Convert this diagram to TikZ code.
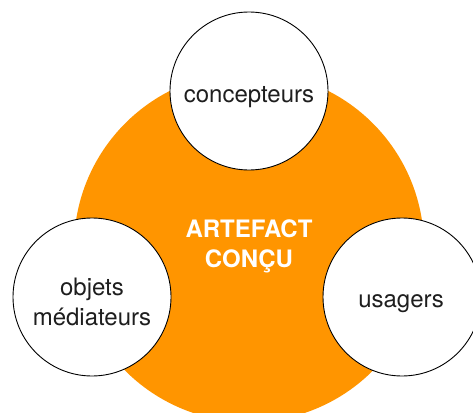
\documentclass[tikz,border=0pt]{standalone}
\usepackage{fontspec}
\setmainfont{TeX Gyre Heros}
\definecolor{artorange}{RGB}{255,149,0}
\definecolor{txtgray}{RGB}{30,30,30}
\begin{document}
\begin{tikzpicture}[x=1pt,y=-1pt,
  agent/.style={circle,draw=black,line width=0.9pt,fill=white,minimum size=158pt,inner sep=0pt},
  lbl/.style={anchor=base,font=\fontsize{24}{30}\selectfont,text=txtgray,inner sep=0pt},
  core/.style={anchor=base,font=\fontsize{24}{30}\selectfont\bfseries,text=white,inner sep=0pt}]
\useasboundingbox (0,0) rectangle (473,412);
\clip (0,0) rectangle (473,412);
\node[circle,fill=artorange,minimum size=350pt,inner sep=0pt] (art) at (249,247) {};
\node[agent] (conc) at (249,91) {};
\node[agent] (obj) at (92,297) {};
\node[agent] (usa) at (402,297) {};
\node[core] (t1) at (249,237) {ARTEFACT};
\node[core] (t2) at (249,267) {CONÇU};
\node[lbl] (l1) at (249,102) {concepteurs};
\node[lbl] (l2) at (92,295) {objets};
\node[lbl] (l3) at (92,325) {médiateurs};
\node[lbl] (l4) at (401,307) {usagers};
\end{tikzpicture}
\end{document}
